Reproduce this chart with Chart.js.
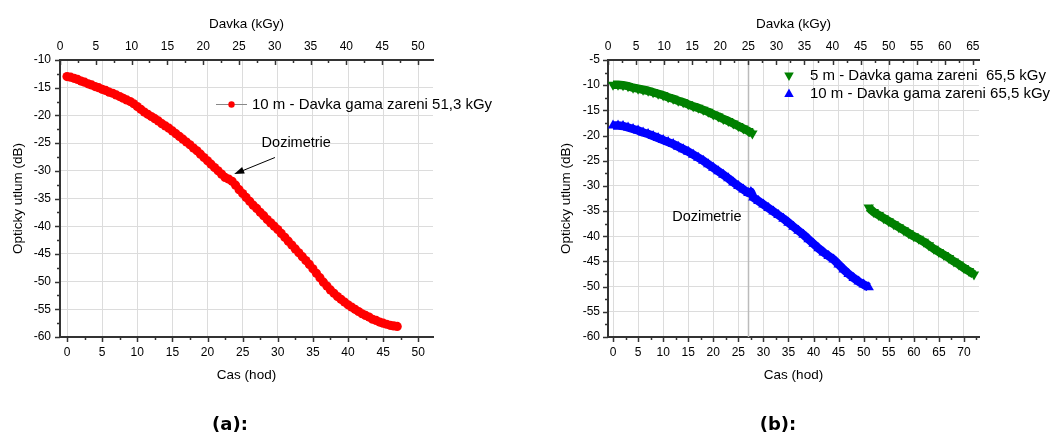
<!DOCTYPE html>
<html>
<head>
<meta charset="utf-8">
<script src="https://cdn.jsdelivr.net/npm/chart.js@4.4.1/dist/chart.umd.min.js"></script>
<style>
  html, body { margin: 0; padding: 0; background: #fff; }
  #wrap { position: relative; width: 1050px; height: 437px; overflow: hidden; }
  canvas { position: absolute; top: 0; }
  #chartA { left: 0; }
  #chartB { left: 525px; }
  .caption { position: absolute; top: 413px; line-height: 22px; font: bold 18px "DejaVu Sans", sans-serif; transform: translateX(-50%); }
</style>
</head>
<body>
<div id="wrap">
  <canvas id="chartA" width="525" height="437"></canvas>
  <canvas id="chartB" width="525" height="437"></canvas>
  <div class="caption" style="left:230px">(a):</div>
  <div class="caption" style="left:778px">(b):</div>
</div>
<script>
// (a) 10 m vlakno, davka 51,3 kGy
const hoursA = [0, 0.5, 1, 1.5, 2, 2.5, 3, 3.5, 4, 4.5,
  5, 5.5, 6, 6.5, 7, 7.5, 8, 8.5, 9, 9.5,
  10, 10.5, 11, 11.5, 12, 12.5, 13, 13.5, 14, 14.5,
  15, 15.5, 16, 16.5, 17, 17.5, 18, 18.5, 19, 19.5,
  20, 20.5, 21, 21.5, 22, 22.5, 23, 23.5, 24, 24.5,
  25, 25.5, 26, 26.5, 27, 27.5, 28, 28.5, 29, 29.5,
  30, 30.5, 31, 31.5, 32, 32.5, 33, 33.5, 34, 34.5,
  35, 35.5, 36, 36.5, 37, 37.5, 38, 38.5, 39, 39.5,
  40, 40.5, 41, 41.5, 42, 42.5, 43, 43.5, 44, 44.5,
  45, 45.5, 46, 46.5, 47];
const lossA = [-13.0, -13.1, -13.3, -13.5, -13.8, -14.0, -14.3, -14.5, -14.8, -15.0,
  -15.3, -15.5, -15.8, -16.0, -16.3, -16.6, -16.9, -17.2, -17.5, -17.9,
  -18.4, -18.9, -19.4, -19.8, -20.2, -20.6, -21.0, -21.5, -21.9, -22.3,
  -22.8, -23.3, -23.8, -24.3, -24.8, -25.3, -25.9, -26.4, -27.0, -27.6,
  -28.2, -28.8, -29.4, -30.0, -30.6, -31.2, -31.5, -31.9, -32.6, -33.4,
  -34.1, -34.8, -35.5, -36.2, -36.8, -37.5, -38.1, -38.8, -39.4, -40.0,
  -40.6, -41.3, -42.0, -42.7, -43.4, -44.1, -44.8, -45.5, -46.2, -46.9,
  -47.7, -48.5, -49.3, -50.1, -50.8, -51.5, -52.1, -52.7, -53.2, -53.7,
  -54.2, -54.6, -55.0, -55.4, -55.8, -56.1, -56.4, -56.8, -57.0, -57.3,
  -57.5, -57.7, -57.9, -58.0, -58.1];

// (b) 5 m a 10 m vlakno, davka 65,5 kGy (null = prerusene mereni)
const hours5m = [0, 1, 2, 3, 4, 5, 6, 7, 8, 9, 10, 11, 12, 13, 14, 15, 16, 17, 18, 19,
  20, 21, 22, 23, 24, 25, 26, 27, 27.8, 40,
  51, 52, 53, 54, 55, 56, 57, 58, 59, 60, 61, 62, 63, 64, 65, 66, 67, 68, 69, 70, 71, 72];
const loss5m = [-9.9, -9.9, -10.0, -10.2, -10.5, -10.7, -10.9, -11.1, -11.4, -11.7,
  -12.0, -12.4, -12.7, -13.1, -13.4, -13.8, -14.2, -14.5, -14.9, -15.3,
  -15.8, -16.2, -16.7, -17.1, -17.6, -18.1, -18.6, -19.1, -19.6, null,
  -34.3, -35.2, -35.8, -36.4, -37.0, -37.6, -38.2, -38.8, -39.4, -40.0, -40.5,
  -41.1, -41.8, -42.5, -43.1, -43.7, -44.3, -45.0, -45.6, -46.3, -46.9, -47.6];
const hours10m = [0, 1, 2, 3, 4, 5, 6, 7, 8, 9, 10, 11, 12, 13, 14, 15, 16, 17, 18, 19,
  20, 21, 22, 23, 24, 25, 26, 27, 27.5, 28, 29, 30, 31, 32, 33, 34, 35, 36, 37, 38,
  39, 40, 41, 42, 43, 44, 45, 46, 47, 48, 49, 50, 51];
const loss10m = [-18.0, -18.0, -18.1, -18.4, -18.7, -19.0, -19.4, -19.7, -20.1, -20.5,
  -20.9, -21.3, -21.7, -22.2, -22.7, -23.2, -23.8, -24.4, -25.0, -25.7,
  -26.4, -27.1, -27.8, -28.5, -29.3, -30.0, -30.7, -31.4, -31.2, -32.3,
  -33.0, -33.7, -34.4, -35.1, -35.8, -36.5, -37.3, -38.1, -38.9, -39.7,
  -40.6, -41.5, -42.4, -43.2, -43.9, -44.6, -45.6, -46.6, -47.5, -48.3,
  -49.0, -49.6, -50.1];

// osy
const hourRangeA = [-1, 52.1];
const doseRangeA = [0, 52.1];
const lossRangeA = [-60, -10];
const hourRangeB = [-1, 73];
const doseRangeB = [0, 66.1];
const lossRangeB = [-60, -5];
const tickStep = 5;

// popisky
const legendA = '10 m - Davka gama zareni 51,3 kGy';
const legend5m = '5 m - Davka gama zareni  65,5 kGy';
const legend10m = '10 m - Davka gama zareni 65,5 kGy';
const noteText = 'Dozimetrie';
const noteA = { textHod: 27.7, textLoss: -25.0, tailHod: 29.6, tailLoss: -27.6, tipHod: 23.8, tipLoss: -30.6 };
const noteB = { textHod: 11.8, textLoss: -36.2, lineHod: 27.0 };

const red = '#ff0000';
const green = '#008000';
const blue = '#0000ff';
const axisColor = '#333333';
const gridColor = '#dcdcdc';
const fontFamily = '"Liberation Sans", Arial, sans-serif';

Chart.defaults.font.family = fontFamily;
Chart.defaults.color = '#000';

const toPoints = (xs, ys) => xs.map((x, i) => ({ x: x, y: ys[i] }));

// major + minor tick marks (Origin style)
const axisTicks = {
  id: 'axisTicks',
  afterDraw(chart) {
    const ctx = chart.ctx;
    ctx.save();
    ctx.strokeStyle = axisColor;
    ctx.lineWidth = 1.5;
    Object.values(chart.scales).forEach(scale => {
      const majors = scale.ticks.map(t => t.value);
      const marks = [];
      majors.forEach(v => {
        marks.push([v, true]);
        marks.push([v + tickStep / 2, false]);
      });
      marks.push([majors[0] - tickStep / 2, false]);
      marks.forEach(([v, major]) => {
        if (v < scale.min - 1e-6 || v > scale.max + 1e-6) return;
        const len = major ? 5 : 3;
        const p = Math.round(scale.getPixelForValue(v)) + 0.5;
        ctx.beginPath();
        if (scale.position === 'bottom') {
          ctx.moveTo(p, scale.top); ctx.lineTo(p, scale.top + len);
        } else if (scale.position === 'top') {
          ctx.moveTo(p, scale.bottom); ctx.lineTo(p, scale.bottom + len);
        } else {
          ctx.moveTo(scale.right, p); ctx.lineTo(scale.right - len, p);
        }
        ctx.stroke();
      });
    });
    ctx.restore();
  }
};

const axisFont = { size: 12 };
const titleFont = { size: 13.5 };

const makeScales = (hourRange, doseRange, lossRange, leftWidth, titlePadLeft, labelPadLeft) => ({
  x: {
    type: 'linear', position: 'bottom', min: hourRange[0], max: hourRange[1],
    afterFit: s => { s.height = 100; },
    grid: { color: gridColor, drawTicks: false },
    border: { color: axisColor, width: 2 },
    ticks: { stepSize: tickStep, includeBounds: false, padding: 8, maxRotation: 0, autoSkip: false, font: axisFont },
    title: { display: true, text: 'Cas (hod)', font: titleFont, padding: { bottom: 54 } }
  },
  x2: {
    type: 'linear', position: 'top', min: doseRange[0], max: doseRange[1],
    afterFit: s => { s.height = 60; },
    grid: { display: false, drawTicks: false },
    border: { color: axisColor, width: 2 },
    ticks: { stepSize: tickStep, includeBounds: false, padding: 6, maxRotation: 0, autoSkip: false, font: axisFont },
    title: { display: true, text: 'Davka (kGy)', font: titleFont, padding: { top: 16 } }
  },
  y: {
    type: 'linear', position: 'left', min: lossRange[0], max: lossRange[1],
    afterFit: s => { s.width = leftWidth; },
    grid: { color: gridColor, drawTicks: false },
    border: { color: axisColor, width: 2 },
    ticks: { stepSize: tickStep, padding: labelPadLeft, autoSkip: false, font: axisFont },
    title: { display: true, text: 'Opticky utlum (dB)', font: titleFont, padding: { top: titlePadLeft } }
  }
});

// (a) legend + Dozimetrie arrow
const extrasA = {
  id: 'extrasA',
  afterDraw(chart) {
    const { ctx, scales: { x, y } } = chart;
    ctx.save();
    // legend
    ctx.strokeStyle = '#888';
    ctx.lineWidth = 1;
    ctx.beginPath();
    ctx.moveTo(216, 104.5); ctx.lineTo(247, 104.5);
    ctx.stroke();
    ctx.fillStyle = red;
    ctx.beginPath();
    ctx.arc(231.5, 104.5, 3.2, 0, Math.PI * 2);
    ctx.fill();
    ctx.fillStyle = '#000';
    ctx.font = '15px ' + fontFamily;
    ctx.textBaseline = 'middle';
    ctx.fillText(legendA, 252, 104.5);
    // note
    ctx.font = '14.5px ' + fontFamily;
    ctx.fillText(noteText, x.getPixelForValue(noteA.textHod), y.getPixelForValue(noteA.textLoss));
    const tx = x.getPixelForValue(noteA.tailHod), ty = y.getPixelForValue(noteA.tailLoss);
    const hx = x.getPixelForValue(noteA.tipHod), hy = y.getPixelForValue(noteA.tipLoss);
    const ang = Math.atan2(hy - ty, hx - tx);
    ctx.strokeStyle = '#000';
    ctx.beginPath();
    ctx.moveTo(tx, ty); ctx.lineTo(hx - 8 * Math.cos(ang), hy - 8 * Math.sin(ang));
    ctx.stroke();
    ctx.beginPath();
    ctx.moveTo(hx, hy);
    ctx.lineTo(hx - 10 * Math.cos(ang) + 3.5 * Math.sin(ang), hy - 10 * Math.sin(ang) - 3.5 * Math.cos(ang));
    ctx.lineTo(hx - 10 * Math.cos(ang) - 3.5 * Math.sin(ang), hy - 10 * Math.sin(ang) + 3.5 * Math.cos(ang));
    ctx.closePath();
    ctx.fill();
    ctx.restore();
  }
};

const triangle = (ctx, cx, cy, r, down) => {
  const s = down ? -1 : 1;
  ctx.beginPath();
  ctx.moveTo(cx, cy - s * r);
  ctx.lineTo(cx + r * 0.95, cy + s * r * 0.7);
  ctx.lineTo(cx - r * 0.95, cy + s * r * 0.7);
  ctx.closePath();
  ctx.fill();
};

// (b) dosimetry line, legend, note
const extrasB = {
  id: 'extrasB',
  beforeDatasetsDraw(chart) {
    const { ctx, chartArea, scales: { x } } = chart;
    const px = Math.round(x.getPixelForValue(noteB.lineHod)) + 0.5;
    ctx.save();
    ctx.strokeStyle = '#bbbbbb';
    ctx.lineWidth = 1.5;
    ctx.beginPath();
    ctx.moveTo(px, chartArea.top); ctx.lineTo(px, chartArea.bottom);
    ctx.stroke();
    ctx.restore();
  },
  afterDraw(chart) {
    const { ctx, scales: { x, y } } = chart;
    ctx.save();
    ctx.fillStyle = green;
    triangle(ctx, 264, 76, 5, true);
    ctx.fillStyle = blue;
    triangle(ctx, 264, 93.5, 5, false);
    ctx.fillStyle = '#000';
    ctx.font = '15px ' + fontFamily;
    ctx.textBaseline = 'middle';
    ctx.fillText(legend5m, 285, 76);
    ctx.fillText(legend10m, 285, 93.5);
    ctx.font = '14.5px ' + fontFamily;
    ctx.fillText(noteText, x.getPixelForValue(noteB.textHod), y.getPixelForValue(noteB.textLoss));
    ctx.restore();
  }
};

const baseOptions = (scales, padRight) => ({
  responsive: false,
  animation: false,
  events: [],
  layout: { padding: { left: 0, right: padRight, top: 0, bottom: 0 } },
  plugins: { legend: { display: false }, tooltip: { enabled: false } },
  scales: scales
});

new Chart(document.getElementById('chartA'), {
  type: 'scatter',
  data: {
    datasets: [{
      label: legendA,
      data: toPoints(hoursA, lossA),
      pointRadius: 4.6,
      pointBackgroundColor: red,
      pointBorderColor: red,
      pointBorderWidth: 0,
      clip: false
    }]
  },
  options: baseOptions(makeScales(hourRangeA, doseRangeA, lossRangeA, 60, 10.5, 9), 92),
  plugins: [axisTicks, extrasA]
});

// dense symbols in the original merge into a band -> thick line through the symbols
const bandSeries = (label, xs, ys, color, rot) => ({
  label: label,
  data: toPoints(xs, ys),
  showLine: true,
  spanGaps: false,
  borderColor: color,
  borderWidth: 8.5,
  borderJoinStyle: 'round',
  pointStyle: 'triangle',
  rotation: rot,
  pointRadius: 6,
  pointBackgroundColor: color,
  pointBorderColor: color,
  pointBorderWidth: 0,
  clip: false
});

new Chart(document.getElementById('chartB'), {
  type: 'scatter',
  data: {
    datasets: [
      bandSeries(legend5m, hours5m, loss5m, green, 180),
      bandSeries(legend10m, hours10m, loss10m, blue, 0)
    ]
  },
  options: baseOptions(makeScales(hourRangeB, doseRangeB, lossRangeB, 83, 33.5, 8), 71),
  plugins: [axisTicks, extrasB]
});
</script>
</body>
</html>
